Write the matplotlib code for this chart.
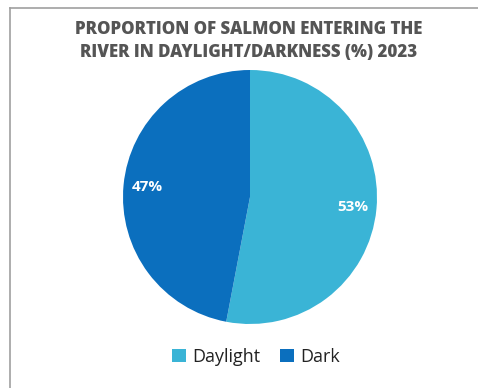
import matplotlib
matplotlib.use("Agg")
import matplotlib.pyplot as plt
from matplotlib.patches import Patch
import numpy as np

categories = ["Daylight", "Dark"]
values = [53, 47]
labels_pct = ["53%", "47%"]
colors = ["#3AB4D6", "#0B6FBE"]
title = "PROPORTION OF SALMON ENTERING THE\nRIVER IN DAYLIGHT/DARKNESS (%) 2023"

W, H = 478, 388
fig = plt.figure(figsize=(W/100, H/100), dpi=100)
fig.patch.set_facecolor("white")

# border lines (top and left)
fig.add_artist(plt.Line2D([10/W, 1], [1-8/H, 1-8/H], color="#A0A0A0", lw=1.2, transform=fig.transFigure))
fig.add_artist(plt.Line2D([10/W, 10/W], [0, 1-8/H], color="#A0A0A0", lw=1.2, transform=fig.transFigure))

cx, cy, r = 250, 197, 127
ax = fig.add_axes([(cx-r)/W, 1-(cy+r)/H, 2*r/W, 2*r/H])
wedges, _ = ax.pie(values, colors=colors, startangle=90, counterclock=False,
                   wedgeprops=dict(linewidth=0))
ax.set_aspect("auto")
ax.set_xlim(-1, 1); ax.set_ylim(-1, 1)
ax.axis("off")

# percentage labels
ang = 90.0
for v, lab in zip(values, labels_pct):
    sweep = v / sum(values) * 360
    mid = np.deg2rad(ang - sweep/2)
    ang -= sweep
    ax.text(0.81*np.cos(mid), 0.81*np.sin(mid), lab, ha="center", va="center",
            color="white", fontsize=11, fontweight="bold", family=["Open Sans", "DejaVu Sans"])

fig.text(249/W, 1-41/H, title, ha="center", va="center", color="#555555",
         fontsize=12.2, fontweight="heavy", family=["Open Sans", "DejaVu Sans"], linespacing=1.4)

handles = [Patch(facecolor=c, edgecolor="none") for c in colors]
leg = fig.legend(handles, categories, loc="center", bbox_to_anchor=(256/W, 1-357/H),
                 ncol=2, frameon=False, handlelength=0.75, handleheight=0.75,
                 handletextpad=0.35, columnspacing=1.1,
                 prop=dict(family=["Open Sans", "DejaVu Sans"], size=13))
for t in leg.get_texts():
    t.set_color("#222222")

fig.savefig("out.png", dpi=100, facecolor="white")
